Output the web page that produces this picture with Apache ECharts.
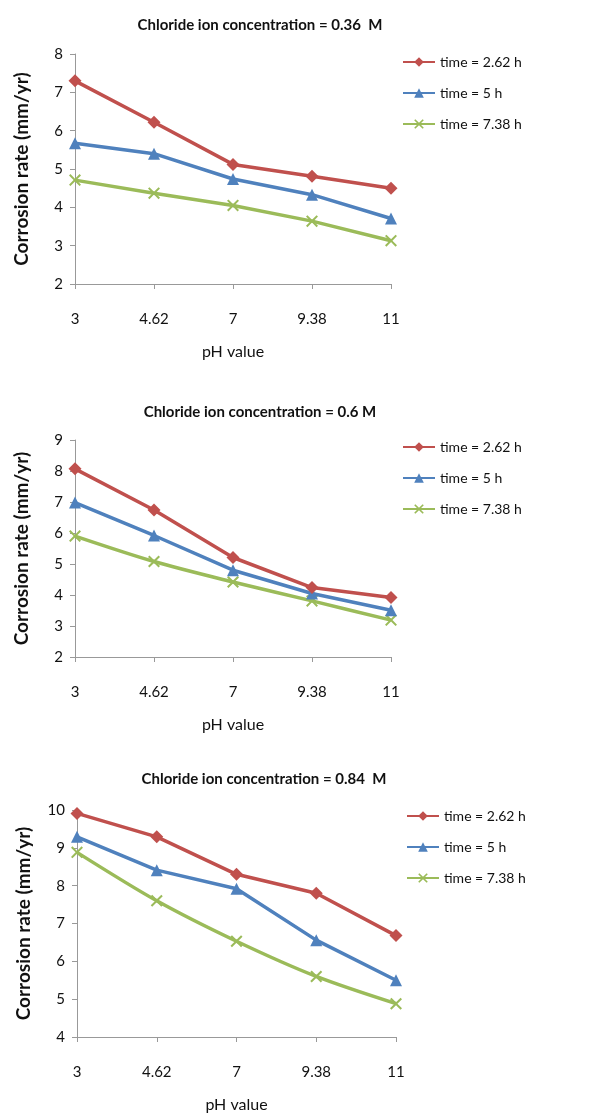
<!DOCTYPE html>
<html><head><meta charset="utf-8">
<script src="https://cdn.jsdelivr.net/npm/echarts@6/dist/echarts.min.js"></script>
<style>html,body{margin:0;padding:0;background:#fff}#c{width:590px;height:1114px}</style>
</head><body><div id="c"></div>
<script>
const phLabels = ['3', '4.62', '7', '9.38', '11'];
const seriesNames = ['time = 2.62 h', 'time = 5 h', 'time = 7.38 h'];
const titles = ['Chloride ion concentration = 0.36  M', 'Chloride ion concentration = 0.6 M', 'Chloride ion concentration = 0.84  M'];
// chart 1: 0.36 M
const c036_t262 = [7.30, 6.22, 5.12, 4.81, 4.50];
const c036_t5   = [5.67, 5.40, 4.74, 4.33, 3.71];
const c036_t738 = [4.71, 4.37, 4.05, 3.64, 3.13];
// chart 2: 0.6 M
const c06_t262 = [8.07, 6.74, 5.21, 4.24, 3.92];
const c06_t5   = [6.98, 5.92, 4.80, 4.05, 3.51];
const c06_t738 = [5.90, 5.08, 4.42, 3.81, 3.19];
// chart 3: 0.84 M
const c084_t262 = [9.91, 9.29, 8.30, 7.80, 6.68];
const c084_t5   = [9.29, 8.41, 7.92, 6.56, 5.50];
const c084_t738 = [8.88, 7.60, 6.53, 5.60, 4.88];
const yMins = [2, 2, 4];
const yMaxs = [8, 9, 10];

const colors = ['#C0504D', '#4F81BD', '#9BBB59'];
const FONT = 'Lato, "Open Sans", sans-serif';
const xSym = 'path://M0,1.2L1.2,0L5,3.8L8.8,0L10,1.2L6.2,5L10,8.8L8.8,10L5,6.2L1.2,10L0,8.8L3.8,5Z';
const symbols = ['diamond', 'triangle', xSym];
const symSizes = [13, 12, 12];

const data = [[c036_t262, c036_t5, c036_t738], [c06_t262, c06_t5, c06_t738], [c084_t262, c084_t5, c084_t738]];
const grids = [
  {left: 75, top: 54, width: 316, height: 230},
  {left: 75, top: 440, width: 316, height: 217},
  {left: 77, top: 810, width: 319, height: 228}
];
const titleTops = [13, 400, 767];
const titleLefts = [255, 255, 259];
const legendTops = [50, 435, 804];
const legendLefts = [397, 397, 401];
const smoothFlags = [[false, false, false], [false, false, true], [false, false, true]];

const option = {
  animation: false,
  backgroundColor: '#fff',
  title: titles.map((t, i) => ({
    text: t, left: titleLefts[i], top: titleTops[i], textAlign: 'center',
    textStyle: {fontFamily: FONT, fontSize: 15, fontWeight: 'bold', color: '#111'}
  })),
  legend: grids.map((g, i) => ({
    data: seriesNames,
    orient: 'vertical', left: legendLefts[i], top: legendTops[i],
    itemWidth: 32, itemHeight: 12, itemGap: 17,
    textStyle: {fontFamily: FONT, fontSize: 14, color: '#111'},
    selectedMode: false
  })),
  grid: grids,
  xAxis: grids.map((g, i) => ({
    type: 'category', gridIndex: i, data: phLabels, boundaryGap: false,
    name: 'pH value', nameLocation: 'middle', nameGap: 60,
    nameTextStyle: {fontFamily: FONT, fontSize: 16, color: '#111'},
    axisLine: {lineStyle: {color: '#999', width: 1}},
    axisTick: {show: true, alignWithLabel: true, length: 5, lineStyle: {color: '#999'}},
    axisLabel: {fontFamily: FONT, fontSize: 15, color: '#111', margin: 28},
    splitLine: {show: false}
  })),
  yAxis: grids.map((g, i) => ({
    type: 'value', gridIndex: i, min: yMins[i], max: yMaxs[i], interval: 1,
    name: 'Corrosion rate (mm/yr)', nameLocation: 'middle', nameGap: 44,
    nameTextStyle: {fontFamily: FONT, fontSize: 19, fontWeight: 'bold', color: '#111'},
    axisLine: {show: true, lineStyle: {color: '#999', width: 1}},
    axisTick: {show: true, length: 5, lineStyle: {color: '#999'}},
    axisLabel: {fontFamily: FONT, fontSize: 15, color: '#111', margin: 12},
    splitLine: {show: false}
  })),
  series: []
};
data.forEach((group, i) => {
  group.forEach((vals, k) => {
    option.series.push({
      type: 'line', name: seriesNames[k], xAxisIndex: i, yAxisIndex: i,
      data: vals, smooth: smoothFlags[i][k] ? 0.3 : false,
      symbol: symbols[k], symbolSize: symSizes[k], showAllSymbol: true,
      lineStyle: {color: colors[k], width: 3.5},
      itemStyle: {color: colors[k]},
      z: 3 - k
    });
  });
});
const chart = echarts.init(document.getElementById('c'), null, {renderer: 'canvas'});
chart.setOption(option);
</script></body></html>
